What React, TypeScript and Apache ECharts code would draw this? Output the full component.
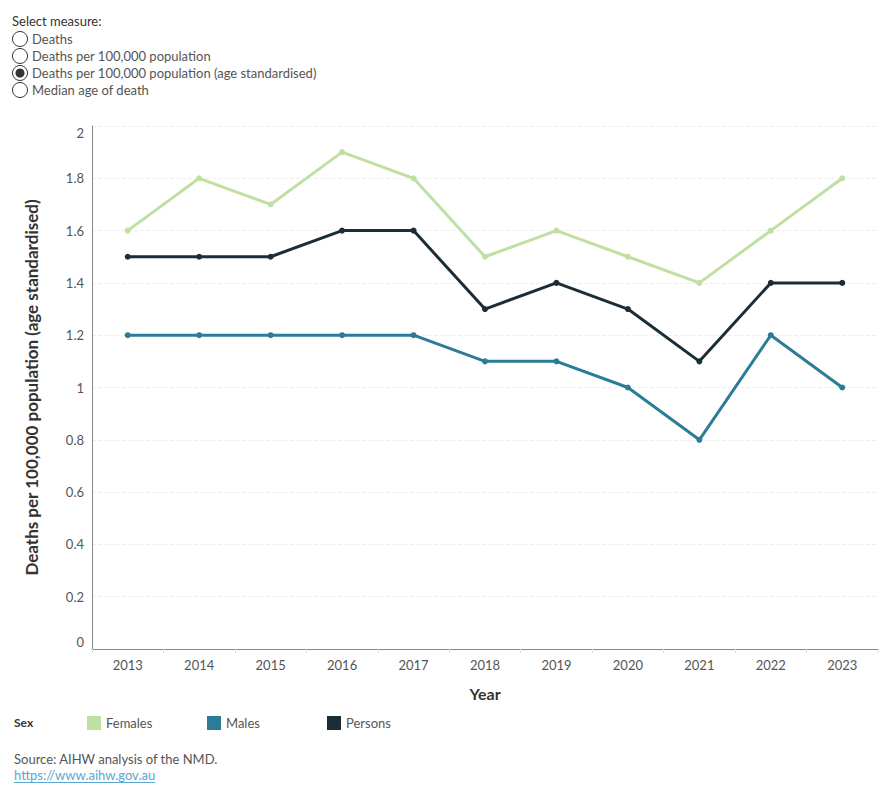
import React, { useEffect, useRef } from "react";
import * as echarts from "echarts";

const years = ["2013", "2014", "2015", "2016", "2017", "2018", "2019", "2020", "2021", "2022", "2023"];
const females = [1.6, 1.8, 1.7, 1.9, 1.8, 1.5, 1.6, 1.5, 1.4, 1.6, 1.8];
const males = [1.2, 1.2, 1.2, 1.2, 1.2, 1.1, 1.1, 1.0, 0.8, 1.2, 1.0];
const persons = [1.5, 1.5, 1.5, 1.6, 1.6, 1.3, 1.4, 1.3, 1.1, 1.4, 1.4];
const measures = [
  "Deaths",
  "Deaths per 100,000 population",
  "Deaths per 100,000 population (age standardised)",
  "Median age of death",
];
const selectedMeasure = 2;
const linkText = "https://www.aihw.gov.au";

const FONT = "Lato";
const C_F = "#c0e0a3";
const C_M = "#2c7c97";
const C_P = "#1b2e38";

export default function App() {
  const ref = useRef<HTMLDivElement>(null);
  useEffect(() => {
    if (!ref.current) return;
    const chart = echarts.init(ref.current, null, { renderer: "svg" });
    const smallFont = `13px ${FONT}`;
    let linkW = 146;
    try {
      const ctx = document.createElement("canvas").getContext("2d");
      if (ctx) {
        ctx.font = smallFont;
        linkW = ctx.measureText(linkText).width;
      }
    } catch (e) {}
    const radioEls: any[] = [];
    measures.forEach((m, i) => {
      const cy = 39 + i * 17;
      radioEls.push({
        type: "circle",
        shape: { cx: 20, cy, r: 7.5 },
        style: { fill: "#fff", stroke: "#333", lineWidth: 1 },
      });
      if (i === selectedMeasure) {
        radioEls.push({
          type: "circle",
          shape: { cx: 20, cy, r: 4.5 },
          style: { fill: "#333" },
        });
      }
      radioEls.push({
        type: "text",
        x: 32,
        y: cy,
        style: { text: m, fill: "#555", font: smallFont, verticalAlign: "middle" },
      });
    });
    const line = (name: string, data: number[], color: string) => ({
      name,
      type: "line",
      data,
      symbol: "circle",
      symbolSize: 6,
      itemStyle: { color },
      lineStyle: { color, width: 3 },
    });
    const legendBase = {
      top: 711,
      icon: "rect",
      itemWidth: 14,
      itemHeight: 14,
      itemGap: 5,
      selectedMode: false,
      textStyle: { color: "#555", fontSize: 13, fontFamily: FONT },
    };
    const labStyle = { color: "#555", fontSize: 13, fontFamily: FONT };
    chart.setOption({
      animation: false,
      textStyle: { fontFamily: FONT },
      grid: { left: 92, right: 12, top: 126, bottom: 151 },
      legend: [
        { ...legendBase, left: 82, data: ["Females"] },
        { ...legendBase, left: 202, data: ["Males"] },
        { ...legendBase, left: 322, data: ["Persons"] },
      ],
      xAxis: {
        type: "category",
        data: years,
        boundaryGap: true,
        name: "Year",
        nameLocation: "middle",
        nameGap: 36,
        nameTextStyle: { fontSize: 16, fontWeight: "bold", color: "#333", fontFamily: FONT },
        axisLine: { lineStyle: { color: "#888" } },
        axisTick: { show: true, length: 4, lineStyle: { color: "#ddd" } },
        axisLabel: { color: "#555", fontSize: 13, margin: 9, fontFamily: FONT },
      },
      yAxis: {
        type: "value",
        min: 0,
        max: 2,
        interval: 0.2,
        name: "Deaths per 100,000 population (age standardised)",
        nameLocation: "middle",
        nameGap: 52,
        nameTextStyle: { fontSize: 17, fontWeight: "bold", color: "#333", fontFamily: FONT },
        axisLine: { show: true, lineStyle: { color: "#888" } },
        axisTick: { show: false },
        splitLine: { lineStyle: { color: "#eee", type: "dashed" } },
        axisLabel: {
          ...labStyle,
          margin: 8,
          formatter: (v: number) => {
            const s = String(Math.round(v * 10) / 10);
            if (v >= 2) return `{top|${s}}`;
            if (v <= 0) return `{bot|${s}}`;
            return s;
          },
          rich: {
            top: { ...labStyle, padding: [14, 0, 0, 0] },
            bot: { ...labStyle, padding: [0, 0, 14, 0] },
          },
        },
      },
      series: [line("Females", females, C_F), line("Males", males, C_M), line("Persons", persons, C_P)],
      graphic: [
        {
          type: "text",
          left: 12,
          top: 14,
          style: { text: "Select measure:", fill: "#333", font: smallFont },
        },
        ...radioEls,
        {
          type: "text",
          left: 14,
          top: 716,
          style: { text: "Sex", fill: "#333", font: `bold 12px ${FONT}` },
        },
        {
          type: "text",
          left: 14,
          top: 752,
          style: { text: "Source: AIHW analysis of the NMD.", fill: "#555", font: smallFont },
        },
        {
          type: "text",
          left: 14,
          top: 768,
          style: { text: linkText, fill: "#5aa6d2", font: smallFont },
        },
        {
          type: "line",
          shape: { x1: 14, y1: 782.5, x2: 14 + linkW, y2: 782.5 },
          style: { stroke: "#5aa6d2", lineWidth: 1 },
        },
      ],
    });
    return () => chart.dispose();
  }, []);
  return <div ref={ref} style={{ position: "absolute", left: 0, top: 0, width: 890, height: 800 }} />;
}
